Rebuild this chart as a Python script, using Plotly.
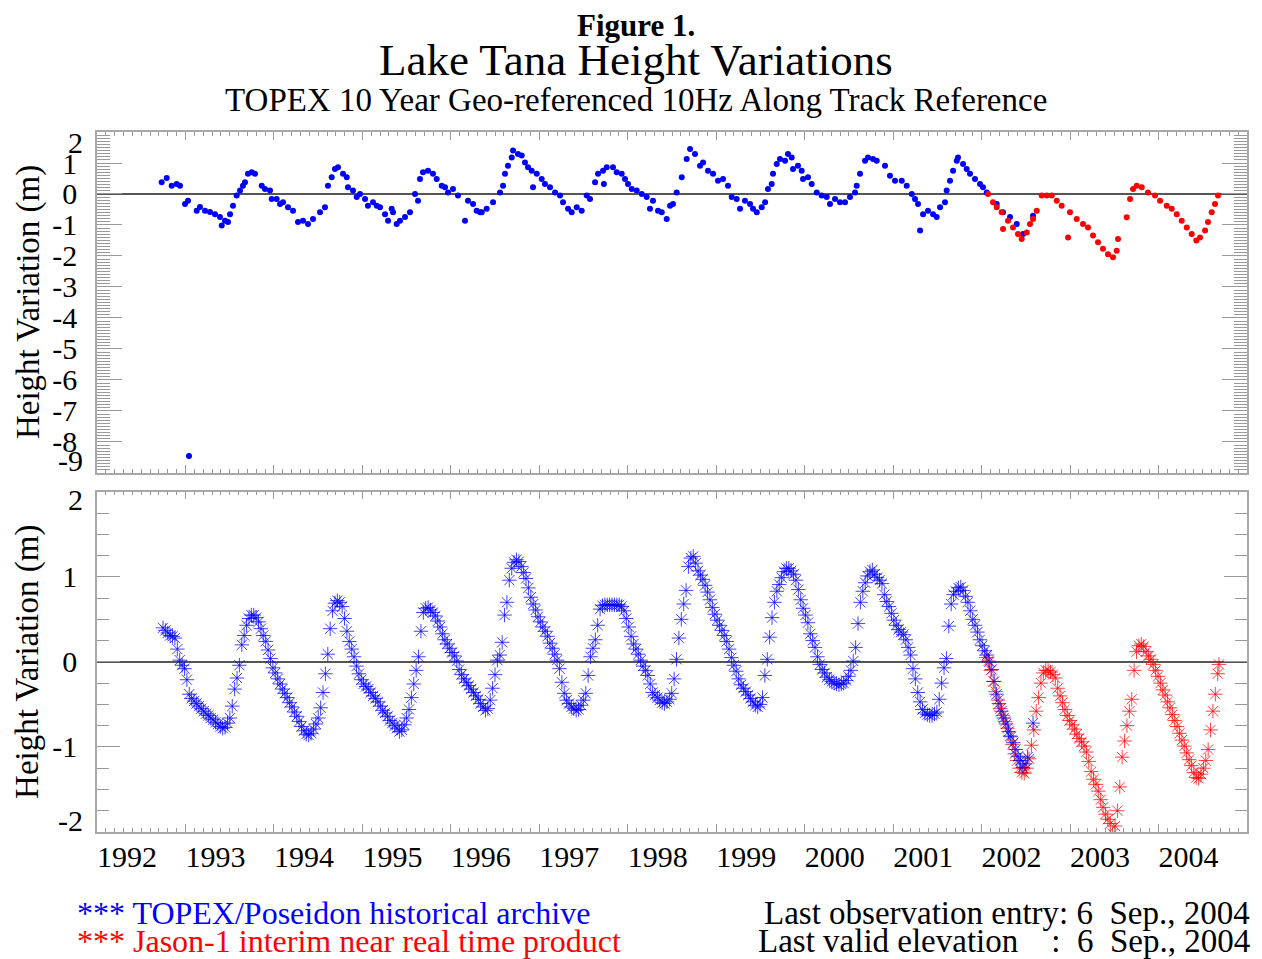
import plotly.graph_objects as go

# ---------------- DATA ----------------
# Bottom panel: TOPEX/Poseidon (blue asterisks)
topex_t = [1992.746,1992.773,1992.800,1992.827,1992.854,1992.881,1992.908,1992.935,1992.962,1992.989,
1993.016,1993.043,1993.070,1993.097,1993.124,1993.151,1993.178,1993.205,1993.232,1993.259,1993.286,1993.313,1993.340,1993.367,1993.394,1993.421,
1993.448,1993.475,1993.502,1993.529,1993.556,1993.583,1993.610,1993.637,1993.664,1993.691,1993.718,1993.745,1993.772,1993.799,
1993.826,1993.853,1993.880,1993.907,1993.934,1993.961,1993.988,1994.015,1994.042,1994.069,1994.096,1994.123,1994.150,1994.177,1994.204,1994.231,1994.258,1994.285,1994.312,1994.339,1994.366,1994.393,1994.420,
1994.447,1994.474,1994.501,1994.528,1994.555,1994.582,1994.609,1994.636,1994.663,1994.690,1994.717,1994.744,
1994.771,1994.798,1994.825,1994.852,1994.879,1994.906,1994.933,1994.960,1994.987,1995.014,1995.041,1995.068,1995.095,1995.122,1995.149,1995.176,1995.203,1995.230,1995.257,1995.284,1995.311,1995.338,1995.365,1995.392,1995.419,1995.446,
1995.473,1995.500,1995.527,1995.554,1995.581,1995.608,1995.635,1995.662,1995.689,1995.716,1995.743,
1995.770,1995.797,1995.824,1995.851,1995.878,1995.905,1995.932,1995.959,1995.986,1996.013,1996.040,1996.067,1996.094,1996.121,1996.148,1996.175,1996.202,1996.229,1996.256,1996.283,1996.310,1996.337,1996.364,1996.391,1996.418,
1996.445,1996.472,1996.499,1996.526,1996.553,1996.580,1996.607,1996.634,1996.661,1996.688,1996.715,1996.742,1996.769,
1996.796,1996.823,1996.850,1996.877,1996.904,1996.931,1996.958,1996.985,1997.012,1997.039,1997.066,1997.093,1997.120,1997.147,1997.174,1997.201,1997.228,1997.255,1997.282,1997.309,1997.336,1997.363,1997.390,1997.417,1997.444,
1997.471,1997.498,1997.525,1997.552,1997.579,1997.606,1997.633,1997.660,1997.687,1997.714,1997.741,1997.768,1997.795,1997.822,1997.849,1997.876,1997.903,
1997.930,1997.957,1997.984,1998.011,1998.038,1998.065,1998.092,1998.119,1998.146,1998.173,1998.200,1998.227,1998.254,1998.281,1998.308,1998.335,1998.362,1998.389,1998.416,1998.443,
1998.470,1998.497,1998.524,1998.551,1998.578,1998.605,1998.632,1998.659,1998.686,1998.713,1998.740,
1998.767,1998.794,1998.821,1998.848,1998.875,1998.902,1998.929,1998.956,1998.983,1999.010,1999.037,1999.064,1999.091,1999.118,1999.145,1999.172,1999.199,1999.226,1999.253,1999.280,1999.307,1999.334,1999.361,1999.388,1999.415,1999.442,1999.469,
1999.496,1999.523,1999.550,1999.577,1999.604,1999.631,1999.658,1999.685,1999.712,1999.739,1999.766,1999.793,1999.820,
1999.847,1999.874,1999.901,1999.928,1999.955,1999.982,2000.009,2000.036,2000.063,2000.090,2000.117,2000.144,2000.171,2000.198,2000.225,2000.252,2000.279,2000.306,2000.333,2000.360,2000.387,
2000.414,2000.441,2000.468,2000.495,2000.522,2000.549,2000.576,2000.603,2000.630,2000.657,2000.684,2000.711,2000.738,2000.765,
2000.792,2000.819,2000.846,2000.873,2000.900,2000.927,2000.954,2000.981,2001.008,2001.035,2001.062,2001.089,2001.116,2001.143,2001.170,2001.197,2001.224,2001.251,2001.278,2001.305,2001.332,2001.359,2001.386,2001.413,2001.440,
2001.467,2001.494,2001.521,2001.548,2001.575,2001.602,2001.629,2001.656,2001.683,2001.710,2001.737,2001.764,
2001.791,2001.818,2001.845,2001.872,2001.899,2001.926,2001.953,2001.980,2002.007,2002.034,2002.061,2002.088,2002.115,2002.142,2002.169,2002.196,2002.223,2002.250,2002.277,2002.304,2002.331,2002.358,2002.385,2002.412,2002.439,2002.466,
2002.493,2002.520,2002.581]
topex_h = [0.40,0.37,0.34,0.31,0.30,0.28,0.15,0.02,-0.04,-0.08,
-0.21,-0.38,-0.43,-0.46,-0.49,-0.52,-0.55,-0.58,-0.61,-0.63,-0.66,-0.68,-0.71,-0.73,-0.76,-0.78,
-0.77,-0.72,-0.66,-0.52,-0.32,-0.19,-0.04,0.20,0.31,0.43,0.51,0.55,0.55,0.52,
0.47,0.39,0.31,0.24,0.14,0.04,-0.07,-0.13,-0.20,-0.26,-0.32,-0.37,-0.42,-0.48,-0.53,-0.59,-0.64,-0.70,-0.76,-0.81,-0.85,-0.86,-0.84,
-0.79,-0.73,-0.66,-0.54,-0.36,-0.14,0.09,0.39,0.60,0.69,0.72,0.70,
0.65,0.51,0.36,0.24,0.15,0.06,-0.05,-0.14,-0.21,-0.26,-0.29,-0.32,-0.36,-0.40,-0.43,-0.47,-0.52,-0.57,-0.60,-0.64,-0.69,-0.72,-0.75,-0.78,-0.82,-0.80,
-0.74,-0.66,-0.56,-0.42,-0.26,-0.10,0.06,0.36,0.58,0.63,0.64,
0.61,0.58,0.54,0.48,0.41,0.33,0.26,0.21,0.16,0.11,0.07,0.01,-0.09,-0.15,-0.20,-0.24,-0.28,-0.32,-0.36,-0.40,-0.44,-0.49,-0.53,-0.57,-0.55,
-0.45,-0.31,-0.15,0.02,0.08,0.23,0.55,0.70,0.96,1.10,1.17,1.20,1.18,
1.12,1.05,0.98,0.87,0.76,0.68,0.61,0.53,0.47,0.41,0.36,0.30,0.22,0.16,0.09,0.02,-0.08,-0.24,-0.37,-0.45,-0.49,-0.53,-0.55,-0.57,-0.56,
-0.51,-0.45,-0.37,-0.16,0.06,0.16,0.26,0.43,0.62,0.66,0.67,0.67,0.67,0.67,0.67,0.67,0.67,
0.65,0.60,0.51,0.41,0.30,0.21,0.15,0.09,0.02,-0.05,-0.10,-0.16,-0.26,-0.36,-0.39,-0.42,-0.45,-0.48,-0.49,-0.47,
-0.44,-0.37,-0.20,0.03,0.28,0.50,0.68,0.84,1.12,1.22,1.24,
1.16,1.07,1.02,0.97,0.90,0.82,0.73,0.64,0.56,0.49,0.43,0.37,0.31,0.24,0.15,0.05,-0.04,-0.11,-0.20,-0.27,-0.31,-0.35,-0.39,-0.43,-0.47,-0.51,-0.53,
-0.50,-0.42,-0.16,0.03,0.29,0.52,0.70,0.83,0.91,0.99,1.06,1.10,1.10,
1.07,1.03,0.96,0.85,0.73,0.63,0.55,0.46,0.33,0.25,0.17,0.06,-0.03,-0.09,-0.13,-0.18,-0.21,-0.23,-0.25,-0.26,-0.27,
-0.26,-0.25,-0.22,-0.17,-0.10,0.01,0.17,0.45,0.70,0.83,0.93,1.01,1.06,1.08,
1.03,0.99,0.96,0.92,0.79,0.71,0.65,0.57,0.49,0.43,0.38,0.35,0.32,0.26,0.17,0.08,-0.08,-0.20,-0.36,-0.47,-0.56,-0.60,-0.62,-0.63,-0.63,
-0.61,-0.59,-0.44,-0.25,-0.07,0.04,0.42,0.68,0.79,0.83,0.87,0.88,
0.84,0.77,0.70,0.60,0.50,0.43,0.35,0.26,0.19,0.13,0.08,0.00,-0.09,-0.23,-0.38,-0.49,-0.58,-0.66,-0.73,-0.82,-0.88,-0.95,-1.03,-1.11,-1.16,-1.24,
-1.20,-1.12,-0.72]

# Bottom panel: Jason-1 (red asterisks)
jason_t = [2002.050,2002.077,2002.104,2002.131,2002.158,2002.185,2002.212,2002.239,2002.266,2002.293,2002.320,2002.347,2002.374,2002.401,2002.428,2002.455,2002.482,
2002.509,2002.536,2002.563,2002.590,2002.617,2002.644,2002.671,2002.698,2002.725,2002.752,
2002.779,2002.806,2002.833,2002.860,2002.887,2002.914,2002.941,2002.968,2002.995,2003.022,2003.049,2003.076,2003.103,2003.130,2003.157,2003.184,2003.211,2003.238,2003.265,2003.292,2003.319,2003.346,2003.373,2003.400,2003.427,2003.454,2003.481,
2003.508,2003.535,2003.562,2003.589,2003.616,2003.643,2003.670,2003.697,2003.724,2003.751,2003.778,2003.805,
2003.832,2003.859,2003.886,2003.913,2003.940,2003.967,2003.994,2004.021,2004.048,2004.075,2004.102,2004.129,2004.156,2004.183,2004.210,2004.237,2004.264,2004.291,2004.318,2004.345,2004.372,2004.399,2004.426,2004.453,
2004.480,2004.507,2004.534,2004.561,2004.588,2004.615,2004.642,2004.669,2004.683]
jason_h = [0.05,0.01,-0.10,-0.23,-0.35,-0.45,-0.55,-0.63,-0.70,-0.78,-0.87,-0.97,-1.08,-1.16,-1.25,-1.30,-1.31,
-1.25,-1.14,-0.98,-0.80,-0.58,-0.42,-0.25,-0.13,-0.10,-0.10,
-0.12,-0.15,-0.19,-0.31,-0.40,-0.48,-0.56,-0.63,-0.69,-0.74,-0.79,-0.85,-0.90,-0.94,-0.99,-1.06,-1.17,-1.29,-1.38,-1.44,-1.52,-1.62,-1.71,-1.79,-1.85,-1.90,-2.02,
-1.93,-1.75,-1.47,-1.12,-0.93,-0.75,-0.58,-0.44,-0.10,0.12,0.19,0.21,
0.18,0.12,0.07,0.03,-0.03,-0.10,-0.17,-0.25,-0.33,-0.39,-0.47,-0.54,-0.62,-0.69,-0.76,-0.84,-0.92,-0.99,-1.07,-1.15,-1.22,-1.30,-1.36,-1.37,
-1.32,-1.25,-1.16,-1.03,-0.80,-0.58,-0.38,-0.14,-0.03]

# Top panel: TOPEX/Poseidon raw dots
top_topex_t = [1992.731,1992.788,1992.844,1992.901,1992.938,1992.995,1993.029,1993.040,1993.127,1993.164,1993.221,1993.277,1993.334,1993.390,1993.410,
1993.447,1993.481,1993.504,1993.537,1993.579,1993.617,1993.650,1993.673,1993.707,1993.749,1993.786,1993.862,1993.899,1993.956,1993.975,
1994.031,1994.069,1994.103,1994.159,1994.216,1994.272,1994.329,1994.385,1994.442,1994.521,1994.577,1994.611,1994.653,1994.690,1994.724,
1994.781,1994.823,1994.837,1994.894,1994.936,1994.973,1995.030,1995.063,1995.120,1995.162,1995.199,1995.256,1995.290,1995.331,1995.346,
1995.388,1995.425,1995.482,1995.538,1995.595,1995.629,1995.651,1995.685,1995.742,1995.798,1995.840,1995.897,1995.934,1995.968,1996.024,
1996.081,1996.160,1996.194,1996.251,1996.292,1996.330,1996.349,1996.405,1996.477,1996.556,1996.590,1996.612,1996.646,1996.688,1996.703,
1996.759,1996.801,1996.838,1996.872,1996.914,1996.929,1996.971,1997.027,1997.064,1997.121,1997.178,1997.234,1997.268,1997.325,1997.366,
1997.423,1997.479,1997.536,1997.573,1997.630,1997.664,1997.720,1997.730,1997.762,1997.833,1997.875,1997.931,1997.969,1998.003,1998.045,
1998.101,1998.158,1998.214,1998.251,1998.285,1998.342,1998.384,1998.440,1998.478,1998.511,1998.553,1998.610,1998.666,1998.704,1998.760,
1998.817,1998.851,1998.907,1998.964,1999.020,1999.077,1999.133,1999.175,1999.231,1999.269,1999.325,1999.382,1999.416,1999.458,1999.514,
1999.552,1999.585,1999.627,1999.642,1999.684,1999.721,1999.778,1999.811,1999.853,1999.868,1999.924,1999.966,1999.981,2000.037,2000.079,
2000.136,2000.192,2000.249,2000.286,2000.343,2000.399,2000.456,2000.512,2000.569,2000.588,2000.625,2000.682,2000.716,2000.772,2000.814,
2000.908,2000.964,2001.021,2001.097,2001.153,2001.210,2001.247,2001.281,2001.304,2001.338,2001.394,2001.451,2001.492,2001.530,2001.586,
2001.605,2001.643,2001.677,2001.719,2001.733,2001.790,2001.831,2001.869,2001.925,2001.982,2002.016,2002.058,2002.171,2002.242,2002.321,
2002.397,2002.468,2002.581]
top_topex_h = [0.38,0.52,0.27,0.32,0.27,-0.32,-0.22,-8.45,-0.54,-0.42,-0.54,-0.58,-0.65,-0.74,-1.02,
-0.86,-0.90,-0.65,-0.38,-0.05,0.11,0.27,0.38,0.65,0.70,0.65,0.27,0.16,0.11,-0.16,
-0.16,-0.32,-0.27,-0.43,-0.54,-0.90,-0.86,-0.97,-0.81,-0.59,-0.43,0.27,0.54,0.81,0.86,
0.65,0.54,0.22,0.11,-0.10,0.00,-0.16,-0.38,-0.27,-0.38,-0.43,-0.65,-0.86,-0.48,-0.59,
-0.97,-0.86,-0.74,-0.59,0.00,-0.22,0.48,0.70,0.75,0.65,0.48,0.27,0.22,0.05,0.16,
-0.05,-0.86,-0.22,-0.32,-0.54,-0.59,-0.59,-0.48,-0.27,0.05,0.27,0.65,0.91,1.18,1.40,
1.29,1.24,1.02,0.86,0.75,0.22,0.65,0.48,0.32,0.22,0.05,-0.05,-0.27,-0.48,-0.59,
-0.43,-0.54,-0.05,-0.16,0.38,0.65,0.75,0.32,0.86,0.86,0.70,0.65,0.48,0.32,0.16,
0.11,0.00,-0.10,-0.48,-0.22,-0.54,-0.59,-0.81,-0.38,-0.32,0.05,0.54,1.13,1.45,1.29,
0.91,1.02,0.75,0.65,0.43,0.48,0.27,-0.10,-0.16,-0.48,-0.22,-0.32,-0.48,-0.59,-0.43,
-0.27,0.16,0.32,0.65,0.97,1.13,1.07,1.29,1.18,0.81,0.91,0.75,0.48,0.54,0.32,
0.05,-0.05,-0.10,-0.32,-0.16,-0.27,-0.27,-0.10,0.05,0.27,0.65,1.07,1.18,1.13,1.07,
0.91,0.59,0.43,0.43,0.27,0.00,-0.16,-0.32,-1.18,-0.65,-0.54,-0.65,-0.74,-0.43,-0.27,
0.11,0.43,0.75,1.07,1.18,0.97,0.81,0.65,0.48,0.32,0.22,0.05,-0.32,-0.59,-0.74,
-0.97,-1.29,-0.70]

# Top panel: Jason-1 raw dots
top_jason_t = [2002.072,2002.129,2002.171,2002.227,2002.242,2002.298,2002.355,2002.411,2002.453,2002.510,2002.547,2002.581,2002.623,
2002.679,2002.736,2002.793,2002.849,2002.905,2002.977,2002.999,2003.075,2003.146,2003.203,2003.259,2003.316,2003.372,2003.429,
2003.485,2003.527,2003.542,2003.640,2003.678,2003.712,2003.753,2003.810,2003.881,2003.960,2004.017,2004.093,2004.149,2004.206,
2004.262,2004.319,2004.375,2004.427,2004.469,2004.526,2004.559,2004.601,2004.638,2004.672]
top_jason_h = [0.00,-0.27,-0.43,-0.59,-1.13,-0.86,-1.08,-1.29,-1.45,-1.24,-0.97,-0.81,-0.54,
-0.05,-0.05,-0.05,-0.22,-0.38,-1.40,-0.59,-0.81,-0.97,-1.08,-1.34,-1.56,-1.77,-1.94,
-2.04,-1.83,-1.45,-0.75,-0.16,0.16,0.27,0.22,0.05,-0.05,-0.22,-0.38,-0.48,-0.65,
-0.86,-1.08,-1.29,-1.50,-1.40,-1.18,-0.90,-0.59,-0.32,-0.05]

year_ticks = list(range(1992, 2005))
year_labels = [str(y) for y in year_ticks]
top_y_ticks = list(range(-9, 3))
bot_y_ticks = [-2, -1, 0, 1, 2]

# ---------------- FIGURE ----------------
SERIF = "Liberation Serif"
BLUE = "#0000ff"
RED = "#ff0000"
FRAME = "#a8a8a8"
TICK = "#999999"
STAR_BLUE = "rgba(0,0,255,0.75)"
STAR_RED = "rgba(255,0,0,0.75)"

fig = go.Figure()
fig.add_trace(go.Scatter(x=top_topex_t, y=top_topex_h, mode="markers", xaxis="x", yaxis="y",
                         marker=dict(color=BLUE, size=6), showlegend=False, hoverinfo="skip"))
fig.add_trace(go.Scatter(x=top_jason_t, y=top_jason_h, mode="markers", xaxis="x", yaxis="y",
                         marker=dict(color=RED, size=6), showlegend=False, hoverinfo="skip"))
fig.add_trace(go.Scatter(x=jason_t, y=jason_h, mode="markers", xaxis="x2", yaxis="y2",
                         marker=dict(symbol="asterisk-open", size=12, color=STAR_RED,
                                     line=dict(color=STAR_RED, width=1)),
                         showlegend=False, hoverinfo="skip"))
fig.add_trace(go.Scatter(x=topex_t, y=topex_h, mode="markers", xaxis="x2", yaxis="y2",
                         marker=dict(symbol="asterisk-open", size=12, color=STAR_BLUE,
                                     line=dict(color=STAR_BLUE, width=1)),
                         showlegend=False, hoverinfo="skip"))

def xaxis_cfg(anchor, labels):
    return dict(domain=[0, 1], range=[1992, 2005], anchor=anchor, tickmode="array",
                tickvals=year_ticks, ticktext=year_labels, showticklabels=labels,
                ticks="inside", ticklen=8, tickwidth=1, tickcolor=TICK,
                minor=dict(dtick=0.1, tick0=1992, ticks="inside", ticklen=4, tickcolor=TICK, tickwidth=1),
                showline=True, linecolor=FRAME, linewidth=1.5, mirror="ticks",
                showgrid=False, zeroline=False,
                tickfont=dict(family=SERIF, size=30, color="black"),
                ticklabelshift=30, ticklabelstandoff=-3)

def yaxis_cfg(anchor, dom, rng, ticks, minor_dt, mlen, mjlen):
    # extreme labels are drawn as nudged annotations (as in the original)
    txt = ["" if (v == ticks[0] or v == ticks[-1]) else str(v) for v in ticks]
    return dict(domain=dom, range=rng, anchor=anchor, tickmode="array",
                tickvals=ticks, ticktext=txt,
                ticks="inside", ticklen=mjlen, tickwidth=1, tickcolor=TICK,
                minor=dict(dtick=minor_dt, tick0=0, ticks="inside", ticklen=mlen, tickcolor=TICK, tickwidth=1),
                showline=True, linecolor=FRAME, linewidth=1.5, mirror="ticks",
                showgrid=False, zeroline=True, zerolinecolor="#555555", zerolinewidth=2,
                tickfont=dict(family=SERIF, size=30, color="black"),
                ticklabelstandoff=12)

# the page body adds an 8px offset; compensate so the plot lands where the original is
fig.update_layout(
    width=1254, height=951, autosize=False,
    margin=dict(l=89, r=15, t=124, b=127, pad=0),
    paper_bgcolor="white", plot_bgcolor="white",
    xaxis=xaxis_cfg("y", False),
    yaxis=yaxis_cfg("x", [0.5129, 1.0], [-9, 2], top_y_ticks, 0.1, 13, 25),
    xaxis2=xaxis_cfg("y2", True),
    yaxis2=yaxis_cfg("x2", [0.0, 0.4861], [-2, 2], bot_y_ticks, 0.25, 12, 23),
)

ann = []
def add_text(text, x, y, size, color="black", xanchor="center", bold=False, angle=0):
    if bold:
        text = "<b>" + text + "</b>"
    ann.append(dict(text=text, x=x, y=y, xref="paper", yref="paper", xanchor=xanchor,
                    yanchor="middle", showarrow=False, textangle=angle,
                    font=dict(family=SERIF, size=size, color=color)))

add_text("Figure 1.", 0.4687, 1.152, 31, bold=True)
add_text("Lake Tana Height Variations", 0.4687, 1.1029, 45)
add_text("TOPEX 10 Year Geo-referenced 10Hz Along Track Reference", 0.4687, 1.0457, 33)
add_text("Height Variation (m)", -0.060, 0.757, 33, angle=-90)
add_text("Height Variation (m)", -0.060, 0.243, 33, angle=-90)
add_text("*** TOPEX/Poseidon historical archive", -0.0191, -0.1157, 32, color=BLUE, xanchor="left")
add_text("*** Jason-1 interim near real time product", -0.0191, -0.1557, 32, color=RED, xanchor="left")
nb = "\u00a0"
add_text("Last observation entry: 6" + nb * 2 + "Sep., 2004", 1.0043, -0.1157, 33, xanchor="right")
add_text("Last valid elevation" + nb * 4 + ":" + nb * 2 + "6" + nb * 2 + "Sep., 2004", 1.0043, -0.1557, 33, xanchor="right")

# nudged extreme y tick labels (kept inside the frame like the original)
lab_x = -0.0104
add_text(str(top_y_ticks[-1]), lab_x, 0.9843, 30, xanchor="right")
add_text(str(top_y_ticks[0]), lab_x, 0.5314, 30, xanchor="right")
add_text(str(bot_y_ticks[-1]), lab_x, 0.4757, 30, xanchor="right")
add_text(str(bot_y_ticks[0]), lab_x, 0.0171, 30, xanchor="right")
fig.update_layout(annotations=ann)

fig.write_html("out.html")
